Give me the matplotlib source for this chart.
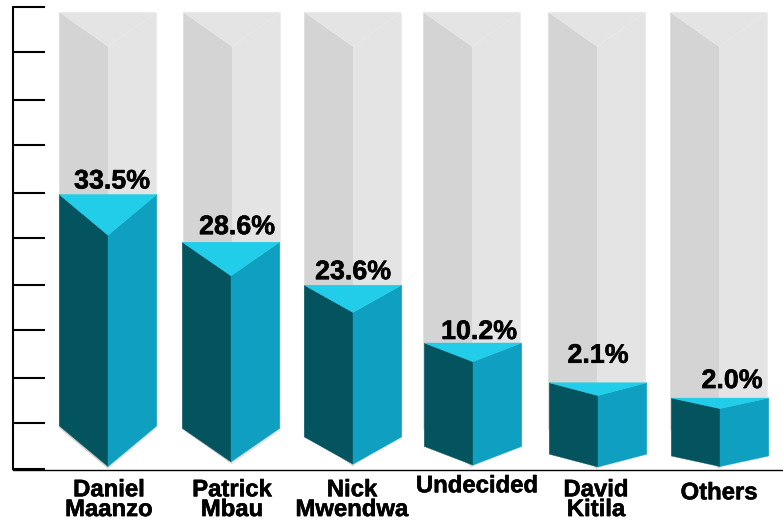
import matplotlib.pyplot as plt
import matplotlib.patheffects as pe

plt.rcParams['font.family'] = ['Liberation Sans', 'DejaVu Sans']

# data
names = ["Daniel\nMaanzo", "Patrick\nMbau", "Nick\nMwendwa", "Undecided", "David\nKitila", "Others"]
pct_labels = ["33.5%", "28.6%", "23.6%", "10.2%", "2.1%", "2.0%"]
# bar heights in axis units, the picture is not to scale with the percentages
levels = [5.94, 4.91, 3.98, 2.73, 1.87, 1.54]
tips = [0.06, 0.16, 0.11, 0.09, 0.05, 0.06]
y_ticks = [0, 1.0, 1.975, 3.01, 3.99, 5.0, 5.98, 7.01, 7.99, 9.03, 10]

# layout, x axis runs in pixels
centres = [108, 231, 353, 473, 598, 720]
shell_shift = [0, 1, 0, -1, -1, -1]
half_w = 48.7
persp = 0.148
shell_top = 9.88
shell_vee = 0.74
shell_min_side = 0.85
shell_gap = 0.05
pct_off = [(4, 13), (6, 15), (0, 13), (6, 11), (0, 27), (12, 17)]
name_off = [(1, 9), (1, 9), (-1, 9), (4, 5), (-2, 9), (-1, 12)]

dark = '#04545f'
mid = '#0f9fc0'
light = '#22cdea'
grey_l = '#d4d4d4'
grey_r = '#e4e4e4'

fig = plt.figure(figsize=(7.83, 5.2), dpi=100)
ax = fig.add_axes([13 / 783, (520 - 469.3) / 520, 770 / 783, 462.6 / 520])
ax.set_xlim(13, 783)
ax.set_ylim(0, 10)
bold = [pe.withStroke(linewidth=0.4, foreground='black')]

for i, c in enumerate(centres):
    l = c - half_w
    r = c + half_w
    top = levels[i]
    vee = top * (1 - persp)
    tip = tips[i]
    side = tip + top * persp

    # grey shell
    sc = c + shell_shift[i]
    sl = l + shell_shift[i]
    sr = r + shell_shift[i]
    s_side = max(side - shell_gap, shell_min_side)
    s_tip = tip - shell_gap
    ax.fill([sl, sc, sc, sl], [shell_top, shell_top - shell_vee, s_tip, s_side], color=grey_l, lw=0)
    ax.fill([sc, sr, sr, sc], [shell_top - shell_vee, shell_top, s_side, s_tip], color=grey_r, lw=0)
    ax.fill([sl, sr, sc], [shell_top, shell_top, shell_top - shell_vee], color=grey_r, lw=0)

    # coloured prism
    ax.fill([l, c, c, l], [top, vee, tip, side], color=dark, lw=0.3)
    ax.fill([c, r, r, c], [vee, top, side, tip], color=mid, lw=0.3)
    ax.fill([l, r, c], [top, top, vee], color=light, lw=0.3)

    ax.annotate(pct_labels[i], xy=(c, top), xytext=pct_off[i], textcoords='offset pixels',
                ha='center', va='center', fontsize=19.3, fontweight='bold', color='black',
                path_effects=bold)
    ax.annotate(names[i], xy=(c, 0), xytext=(name_off[i][0], -name_off[i][1]), textcoords='offset pixels',
                ha='center', va='top', fontsize=17.2, fontweight='bold', color='black',
                linespacing=0.82, annotation_clip=False, path_effects=bold)

ax.set_yticks(y_ticks)
ax.set_yticklabels([])
ax.set_xticks([])
ax.tick_params(axis='y', direction='in', length=32 * 0.72, width=1.5, color='black')
ax.spines['top'].set_visible(False)
ax.spines['right'].set_visible(False)
ax.spines['left'].set_linewidth(1.5)
ax.spines['bottom'].set_linewidth(1.0)
ax.spines['bottom'].set_position(('outward', 0.7))

fig.savefig('out.png', dpi=100)
